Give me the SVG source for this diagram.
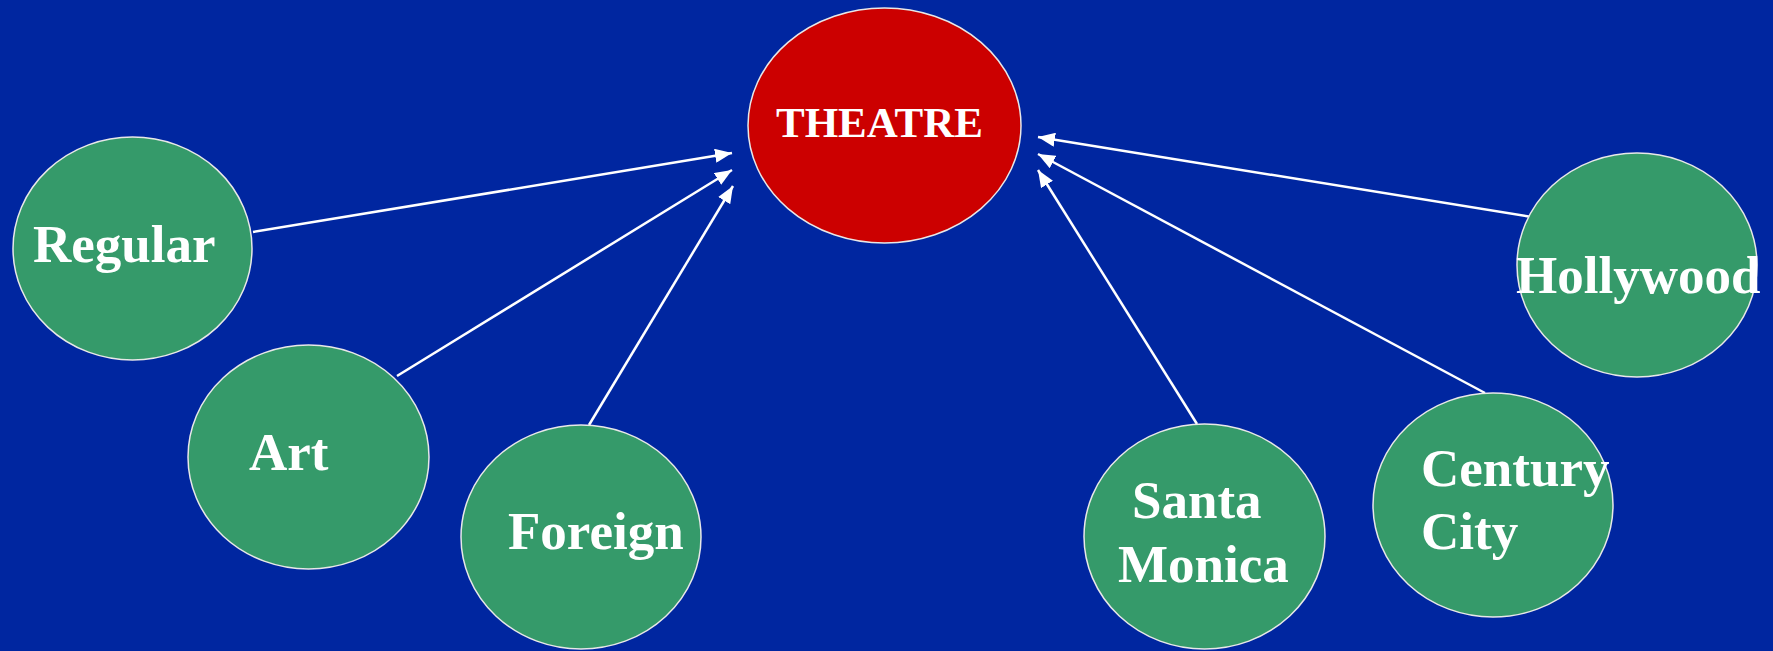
<svg xmlns="http://www.w3.org/2000/svg" width="1773" height="651" viewBox="0 0 1773 651">
  <style>
    .bg { fill: #0026A0; }
    .leaf { fill: #359A6A; stroke: #E8E8E8; stroke-width: 1.5; }
    .hub { fill: #CC0000; stroke: #E8E8E8; stroke-width: 1.5; }
    .label { fill: #FFFFFF; font-family: "Liberation Serif", "Times New Roman", serif; font-weight: bold; font-size: 53px; }
    .hub-label { font-size: 43px; }
    .edge { stroke: #FFFFFF; stroke-width: 2.5; fill: none; marker-end: url(#arrow); }
  </style>
  <defs>
    <marker id="arrow" markerUnits="userSpaceOnUse" markerWidth="18" markerHeight="14" refX="17" refY="7" orient="auto">
      <path d="M0,0 L17,7 L0,14 z" fill="#FFFFFF"/>
    </marker>
  </defs>

  <rect class="bg" x="0" y="0" width="1773" height="651"/>

  <!-- connectors: each venue points to the hub -->
  <g id="connectors">
    <line class="edge" x1="253" y1="232" x2="732" y2="153"/>
    <line class="edge" x1="397" y1="376" x2="732" y2="170"/>
    <line class="edge" x1="589" y1="425" x2="733" y2="186"/>
    <line class="edge" x1="1197" y1="424" x2="1038" y2="170"/>
    <line class="edge" x1="1485" y1="393" x2="1038" y2="154"/>
    <line class="edge" x1="1532" y1="217" x2="1038" y2="137"/>
  </g>

  <g id="theatre">
    <ellipse class="hub" cx="884.5" cy="125.5" rx="136.5" ry="117.5"/>
    <text class="label hub-label" x="879.5" y="137" text-anchor="middle">THEATRE</text>
  </g>

  <g id="regular">
    <ellipse class="leaf" cx="132.5" cy="248.5" rx="119.5" ry="111.5"/>
    <text class="label" x="33" y="262">Regular</text>
  </g>

  <g id="art">
    <ellipse class="leaf" cx="308.5" cy="457" rx="120.5" ry="112"/>
    <text class="label" x="249" y="470">Art</text>
  </g>

  <g id="foreign">
    <ellipse class="leaf" cx="581" cy="537" rx="120" ry="112"/>
    <text class="label" x="508" y="549">Foreign</text>
  </g>

  <g id="santa-monica">
    <ellipse class="leaf" cx="1204.5" cy="536.5" rx="120.5" ry="112.5"/>
    <text class="label" x="1132" y="518">Santa</text>
    <text class="label" x="1118" y="582">Monica</text>
  </g>

  <g id="century-city">
    <ellipse class="leaf" cx="1493" cy="505" rx="120" ry="112"/>
    <text class="label" x="1421" y="486">Century</text>
    <text class="label" x="1421" y="549">City</text>
  </g>

  <g id="hollywood">
    <ellipse class="leaf" cx="1637" cy="265" rx="120" ry="112"/>
    <text class="label" x="1516" y="293">Hollywood</text>
  </g>
</svg>
